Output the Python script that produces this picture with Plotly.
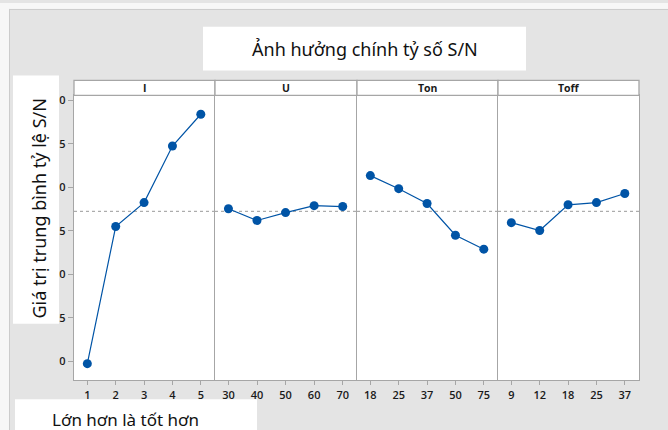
import plotly.graph_objects as go

W, H = 668, 430

# ---- data (y in axis units where ticks are 0..6) ----
factors = ["I", "U", "Ton", "Toff"]
levels_I = ["1", "2", "3", "4", "5"]
levels_U = ["30", "40", "50", "60", "70"]
levels_Ton = ["18", "25", "37", "50", "75"]
levels_Toff = ["9", "12", "18", "25", "37"]
sn_I = [-0.05, 3.10, 3.65, 4.95, 5.68]
sn_U = [3.51, 3.24, 3.42, 3.58, 3.56]
sn_Ton = [4.27, 3.97, 3.63, 2.90, 2.58]
sn_Toff = [3.19, 3.01, 3.60, 3.65, 3.86]
grand_mean = 3.45
y_tickvals = [0, 1, 2, 3, 4, 5, 6]
y_ticktext = ["0", "5", "0", "5", "0", "5", "0"]

levels = [levels_I, levels_U, levels_Ton, levels_Toff]
values = [sn_I, sn_U, sn_Ton, sn_Toff]

def px(x):
    return x / W

def py(y):
    return 1 - y / H

panel_edges = [74, 215, 357, 498, 639]
plot_top, plot_bot = 93, 380
head_top = 78
blue = "#0054a6"
frame = "#a6a6a6"
tickfont = dict(family="Open Sans", size=11, color="#1a1a1a", weight=600)

fig = go.Figure()
layout = dict(
    width=W, height=H, margin=dict(l=0, r=0, t=0, b=0),
    paper_bgcolor="#e4e4e4", plot_bgcolor="white", showlegend=False,
)
shapes = []
annotations = []

# white strips at top and left, with a light border line
shapes.append(dict(type="rect", xref="paper", yref="paper", x0=0, x1=1, y0=py(6), y1=1,
                   fillcolor="#f7f7f7", line=dict(width=0), layer="below"))
shapes.append(dict(type="rect", xref="paper", yref="paper", x0=0, x1=px(9), y0=0, y1=1,
                   fillcolor="#f7f7f7", line=dict(width=0), layer="below"))
shapes.append(dict(type="line", xref="paper", yref="paper", x0=px(9), x1=1, y0=py(6.5), y1=py(6.5),
                   line=dict(color="#cccccc", width=1), layer="below"))
shapes.append(dict(type="line", xref="paper", yref="paper", x0=px(9.5), x1=px(9.5), y0=0, y1=py(6),
                   line=dict(color="#cccccc", width=1), layer="below"))

for i, (lv, vals, name) in enumerate(zip(levels, values, factors)):
    sfx = "" if i == 0 else str(i + 1)
    xa, ya = "x" + sfx, "y" + sfx
    fig.add_trace(go.Scatter(
        x=lv, y=vals, mode="lines+markers", xaxis=xa, yaxis=ya,
        line=dict(color=blue, width=1.2), marker=dict(color=blue, size=9),
        hoverinfo="x+y",
    ))
    layout["xaxis" + sfx] = dict(
        domain=[px(panel_edges[i]), px(panel_edges[i + 1])], anchor=ya,
        type="category", categoryorder="array", categoryarray=lv,
        range=[-0.47, 4.5], showgrid=False, zeroline=False,
        showline=True, mirror=True, linecolor=frame, linewidth=1.3,
        ticks="outside", ticklen=4, tickcolor=frame, tickfont=tickfont,
        fixedrange=True,
    )
    layout["yaxis" + sfx] = dict(
        domain=[py(plot_bot), py(plot_top)], anchor=xa,
        range=[-0.433, 6.114], showgrid=False, zeroline=False,
        showline=True, mirror=(i == 3), linecolor=frame, linewidth=1.3,
        tickvals=y_tickvals, ticktext=y_ticktext,
        showticklabels=(i == 0), ticks="outside" if i == 0 else "",
        ticklen=5, tickcolor=frame, tickfont=tickfont, fixedrange=True,
    )
    if i > 0:
        layout["yaxis" + sfx]["matches"] = "y"
    # header strip
    shapes.append(dict(type="rect", xref="paper", yref="paper",
                       x0=px(panel_edges[i]), x1=px(panel_edges[i + 1]),
                       y0=py(plot_top), y1=py(head_top),
                       fillcolor="white", line=dict(color=frame, width=1.3)))
    annotations.append(dict(text=name, xref="paper", yref="paper",
                            x=(px(panel_edges[i]) + px(panel_edges[i + 1])) / 2,
                            y=(py(plot_top) + py(head_top)) / 2,
                            showarrow=False, xanchor="center", yanchor="middle",
                            font=dict(family="Open Sans", size=10.5, color="#1a1a1a", weight=700)))
    # grand mean reference line
    shapes.append(dict(type="line", xref=xa + " domain", yref=ya, x0=0, x1=1,
                       y0=grand_mean, y1=grand_mean,
                       line=dict(color="#9a9a9a", width=1, dash="dot"), layer="below"))

# title box
shapes.append(dict(type="rect", xref="paper", yref="paper", x0=px(203), x1=px(526), y0=py(68), y1=py(24),
                   fillcolor="white", line=dict(width=0)))
annotations.append(dict(text="Ảnh hưởng chính tỷ số S/N", xref="paper", yref="paper",
                        x=px(365), y=py(46), showarrow=False, xanchor="center", yanchor="middle",
                        font=dict(family="Noto Sans", size=18, color="#111111")))
# y label box
shapes.append(dict(type="rect", xref="paper", yref="paper", x0=px(13), x1=px(59), y0=py(323), y1=py(73),
                   fillcolor="white", line=dict(width=0)))
annotations.append(dict(text="Giá trị trung bình tỷ lệ S/N", xref="paper", yref="paper",
                        x=px(39), y=py(207), showarrow=False, textangle=-90,
                        xanchor="center", yanchor="middle",
                        font=dict(family="Noto Sans", size=18, color="#111111")))
# bottom box
shapes.append(dict(type="rect", xref="paper", yref="paper", x0=px(15), x1=px(257), y0=py(432), y1=py(399),
                   fillcolor="white", line=dict(width=0)))
annotations.append(dict(text="Lớn hơn là tốt hơn", xref="paper", yref="paper",
                        x=px(50), y=py(419), showarrow=False, xanchor="left", yanchor="middle",
                        font=dict(family="Noto Sans", size=17, color="#111111")))

layout["shapes"] = shapes
layout["annotations"] = annotations
fig.update_layout(**layout)
fig.write_html("out.html")
